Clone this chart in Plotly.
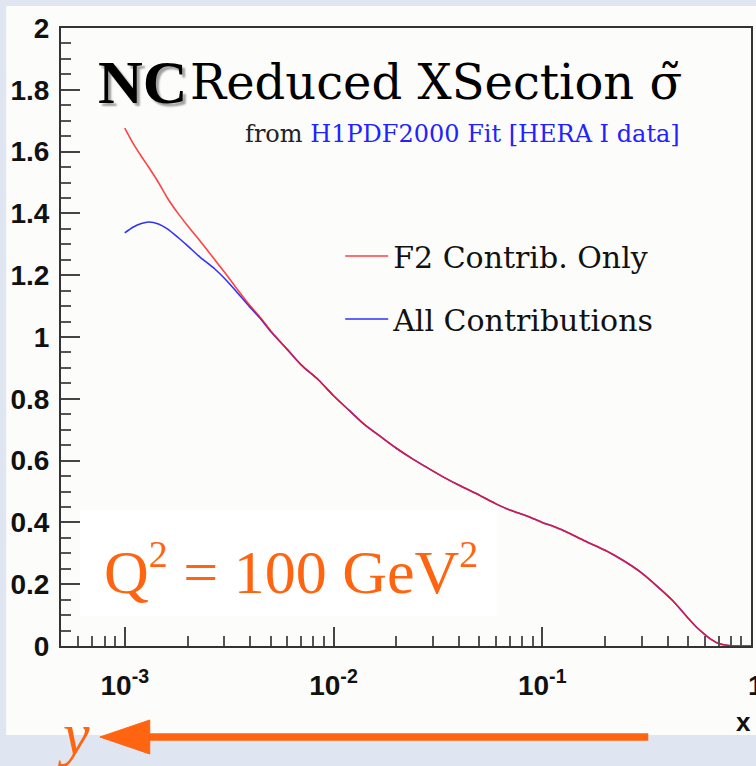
import plotly.graph_objects as go

# ---------------- data ----------------
x_vals = [1.0e-3, 1.1e-3, 1.2e-3, 1.3e-3, 1.45e-3, 1.6e-3, 1.8e-3, 2.0e-3, 2.3e-3,
          2.7e-3, 3.0e-3, 3.5e-3, 4.0e-3, 4.5e-3, 5.0e-3, 6.0e-3, 7.0e-3, 8.5e-3,
          1.0e-2, 1.2e-2, 1.4e-2, 1.7e-2, 2.0e-2, 2.4e-2, 2.8e-2, 3.4e-2, 4.0e-2,
          5.0e-2, 6.0e-2, 7.0e-2, 8.5e-2, 0.10, 0.115, 0.13, 0.16, 0.20, 0.24, 0.27,
          0.30, 0.36, 0.42, 0.50, 0.55, 0.60, 0.65, 0.70, 0.80, 0.90, 1.0]
f2_only = [1.676, 1.625, 1.585, 1.55, 1.50, 1.45, 1.40, 1.36, 1.31,
           1.25, 1.21, 1.15, 1.10, 1.06, 1.02, 0.96, 0.91, 0.86,
           0.81, 0.76, 0.718, 0.675, 0.64, 0.605, 0.578, 0.545, 0.52,
           0.488, 0.46, 0.44, 0.42, 0.40, 0.385, 0.37, 0.34, 0.31, 0.28, 0.258,
           0.236, 0.19, 0.148, 0.09, 0.06, 0.038, 0.02, 0.008, 0.001, 0.0, 0.0]
all_contrib = [1.337, 1.356, 1.367, 1.372, 1.366, 1.350, 1.322, 1.295, 1.258,
               1.22, 1.19, 1.14, 1.095, 1.057, 1.018, 0.96, 0.91, 0.86,
               0.81, 0.76, 0.718, 0.675, 0.64, 0.605, 0.578, 0.545, 0.52,
               0.488, 0.46, 0.44, 0.42, 0.40, 0.385, 0.37, 0.34, 0.31, 0.28, 0.258,
               0.236, 0.19, 0.148, 0.09, 0.06, 0.038, 0.02, 0.008, 0.001, 0.0, 0.0]
series_names = ["F2 Contrib. Only", "All Contributions"]
x_major_ticks = [1e-3, 1e-2, 1e-1, 1.0]
x_tick_text = ["10<sup>-3</sup>", "10<sup>-2</sup>", "10<sup>-1</sup>", "1"]
x_minor_ticks = [m * 10.0 ** e for e in (-4, -3, -2, -1) for m in range(2, 10)]
title_main = "Reduced XSection σ̃"
subtitle_black = "from "
subtitle_blue = "H1PDF2000 Fit [HERA I data]"
q2_label = ("Q<sup><span style='font-size:38px'>2</span></sup> = 100 "
            "GeV<sup><span style='font-size:38px'>2</span></sup>")

# ---------------- layout geometry ----------------
W, H = 756, 766
L, R, T, B = 61, 3, 28, 120
PW, PH = W - L - R, H - T - B


def px(X):
    return (X - L) / PW


def py(Y):
    return (T + PH - Y) / PH


ORANGE = "#ff6410"
BG_OUT = "#dfe6f2"
PANEL = "#fcfcfa"
TICKFONT = dict(family="Liberation Sans", size=28, color="#111", weight="bold")

fig = go.Figure()
fig.add_trace(go.Scatter(x=x_vals, y=all_contrib, mode="lines", name=series_names[1],
                         line=dict(color="#3030ff", width=1.6, shape="spline",
                                   smoothing=0.8),
                         legendrank=2, legendgroup="b"))
fig.add_trace(go.Scatter(x=x_vals, y=f2_only, mode="lines", name=series_names[0],
                         line=dict(color="rgba(255,20,20,0.8)", width=1.6,
                                   shape="spline", smoothing=0.8),
                         legendrank=1, legendgroup="a"))

axis_common = dict(showgrid=False, zeroline=False, showline=True, linecolor="#333",
                   linewidth=2, mirror=True, ticks="inside", tickcolor="#444",
                   tickwidth=1.5, tickfont=TICKFONT)

fig.update_xaxes(type="log", range=[-3.3055, 0.0], tickmode="array",
                 tickvals=x_major_ticks, ticktext=x_tick_text, ticklen=19,
                 ticklabelstandoff=13,
                 minor=dict(tickmode="array", tickvals=x_minor_ticks, ticks="inside",
                            ticklen=10, tickwidth=1.5, tickcolor="#555"),
                 **axis_common)
fig.update_yaxes(range=[0, 2], dtick=0.2, tick0=0, ticklen=19,
                 tickformat="~g", ticklabelstandoff=4,
                 minor=dict(dtick=0.05, ticks="inside", ticklen=10, tickwidth=1.5,
                            tickcolor="#555"),
                 **axis_common)

shapes = [
    # white panel
    dict(type="rect", xref="paper", yref="paper", x0=px(6), x1=px(760), y0=py(735),
         y1=py(6), fillcolor=PANEL, line=dict(width=0), layer="below"),
    # white box behind Q^2 label
    dict(type="rect", xref="paper", yref="paper", x0=px(80), x1=px(498), y0=py(616),
         y1=py(510), fillcolor="#ffffff", line=dict(width=0), layer="below"),
    # arrow shaft
    dict(type="line", xref="paper", yref="paper", x0=px(145), x1=px(650), y0=py(737),
         y1=py(737), line=dict(color=ORANGE, width=7.5)),
    # arrow head
    dict(type="path", xref="paper", yref="paper",
         path=f"M{px(100)},{py(737)} L{px(150)},{py(720)} L{px(150)},{py(754)} Z",
         fillcolor=ORANGE, line=dict(color=ORANGE, width=1)),
]

annotations = [
    dict(text="NC", x=px(96), y=py(82), xanchor="left", yanchor="middle",
         font=dict(family="Liberation Serif", size=62, color="black", weight="bold",
                   shadow="3px 3px 2px #a0a0a0")),
    dict(text=title_main, x=px(188), y=py(82), xanchor="left", yanchor="middle",
         font=dict(family="DejaVu Serif", size=48, color="black")),
    dict(text=subtitle_black + f"<span style='color:#2222ff'>{subtitle_blue}</span>",
         x=px(244), y=py(134), xanchor="left", yanchor="middle",
         font=dict(family="DejaVu Serif", size=24, color="#222")),
    dict(text=q2_label, x=px(102), y=py(569), xanchor="left", yanchor="middle",
         font=dict(family="Liberation Serif", size=62, color=ORANGE)),
    dict(text="x", x=px(745), y=py(722), xanchor="center", yanchor="middle",
         font=dict(family="Liberation Sans", size=26, color="#111", weight="bold")),
    dict(text="y", x=px(74), y=py(734), xanchor="center", yanchor="middle",
         font=dict(family="Liberation Serif", size=60, color=ORANGE, style="italic")),
    # the "1" tick label that is cut by the right edge in the reference
    dict(text=x_tick_text[-1], x=px(748), y=py(686), xanchor="left", yanchor="middle",
         font=TICKFONT),
]
for a in annotations:
    a.update(xref="paper", yref="paper", showarrow=False)

fig.update_layout(
    width=W, height=H,
    margin=dict(l=L, r=R, t=T, b=B, pad=0),
    paper_bgcolor=BG_OUT, plot_bgcolor="rgba(0,0,0,0)",
    shapes=shapes, annotations=annotations,
    showlegend=True,
    legend=dict(x=px(341), y=py(230), xanchor="left", yanchor="top",
                bgcolor="rgba(0,0,0,0)", borderwidth=0, traceorder="grouped",
                tracegroupgap=21, itemwidth=43,
                font=dict(family="DejaVu Serif", size=30, color="#111")),
)

fig.write_html("out.html")
